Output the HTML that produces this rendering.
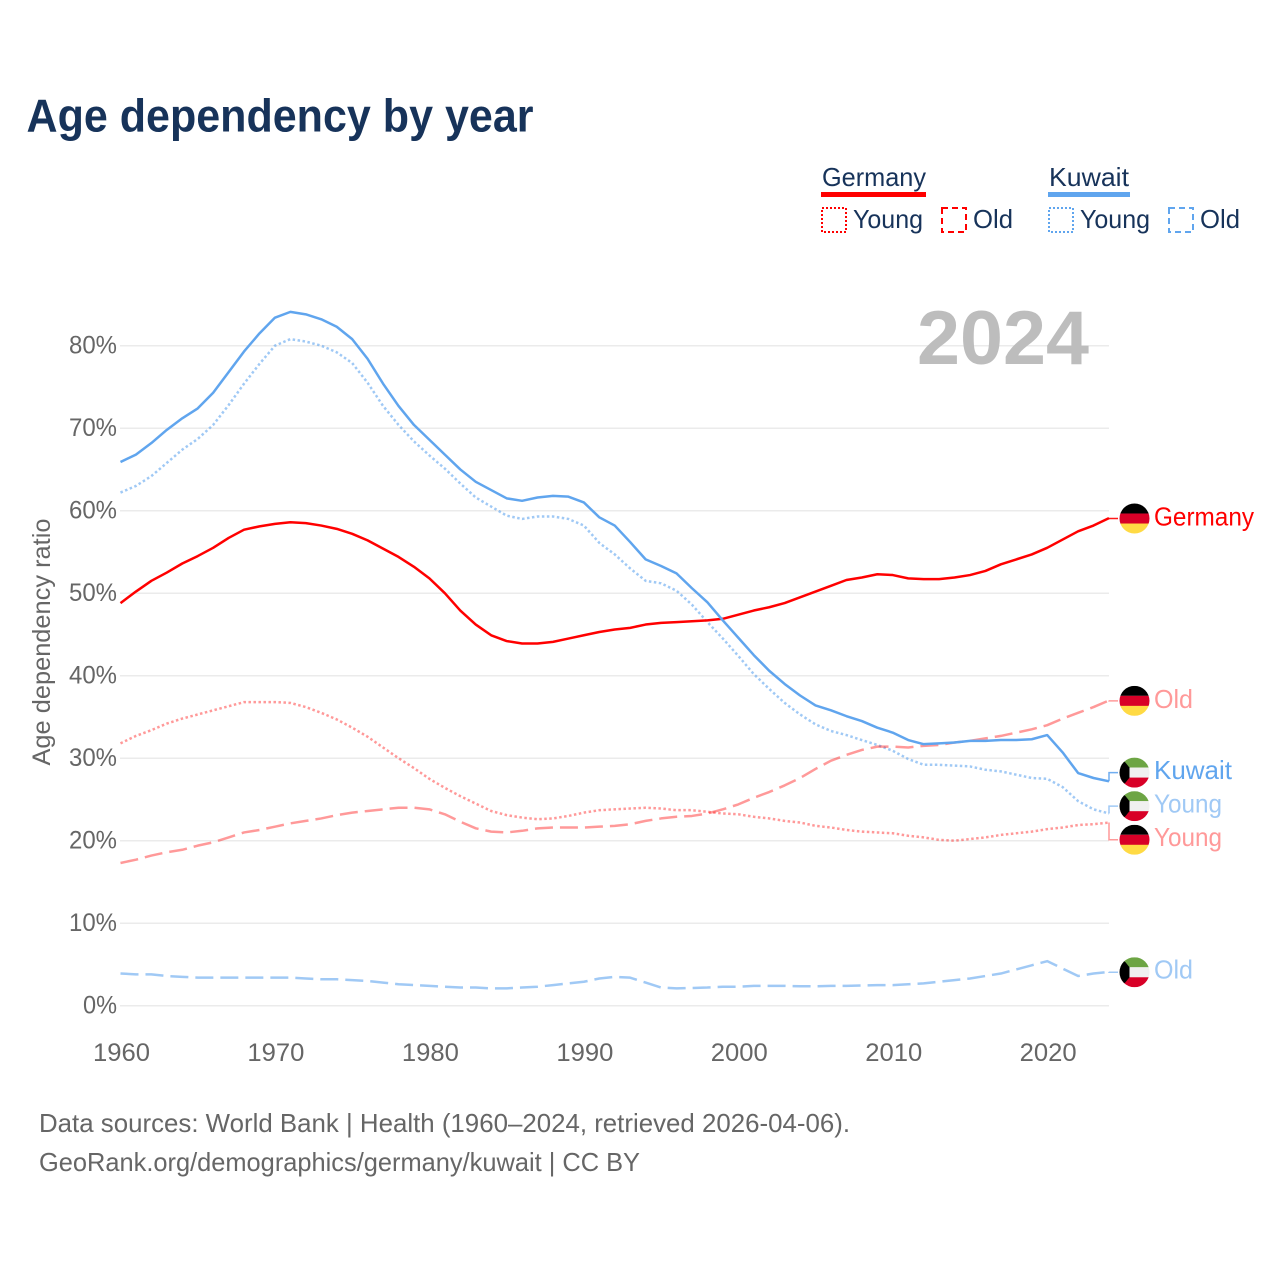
<!DOCTYPE html>
<html lang="en">
<head>
<meta charset="utf-8">
<title>Age dependency by year</title>
<style>
html,body{margin:0;padding:0;background:#fff;width:1280px;height:1280px;overflow:hidden}
svg{display:block}
text{font-family:"Liberation Sans",sans-serif}
.tick{font-size:25px;fill:#666}
.leg{font-size:26px;fill:#17335a}
.end{font-size:26px}
.src{font-size:26px;fill:#666}
</style>
</head>
<body>
<svg id="chart" xmlns="http://www.w3.org/2000/svg" width="1280" height="1280" viewBox="0 0 1280 1280">
  <defs>
    <clipPath id="flag-clip"><circle cx="0" cy="0" r="15"/></clipPath>
    <g id="flag-de">
      <g clip-path="url(#flag-clip)">
        <rect x="-15" y="-15" width="30" height="10" fill="#000"/>
        <rect x="-15" y="-5" width="30" height="10.5" fill="#d80027"/>
        <rect x="-15" y="5" width="30" height="10" fill="#ffda44"/>
      </g>
    </g>
    <g id="flag-kw">
      <g clip-path="url(#flag-clip)">
        <rect x="-15" y="-15" width="30" height="10" fill="#6da544"/>
        <rect x="-15" y="-5" width="30" height="10.5" fill="#f0f0f0"/>
        <rect x="-15" y="5" width="30" height="10" fill="#d80027"/>
        <polygon points="-15,-15 -9,-10 -5,-5 -5,5 -9,10 -15,15" fill="#000"/>
      </g>
    </g>
  </defs>
  <rect width="1280" height="1280" fill="#fff"/>
  <text x="26.5" y="131.5" font-size="46" font-weight="700" fill="#17335a" textLength="507" lengthAdjust="spacingAndGlyphs">Age dependency by year</text>

  <g>
    <g>
      <text class="leg" x="822" y="186" textLength="104" lengthAdjust="spacingAndGlyphs">Germany</text>
      <rect x="821" y="192" width="105" height="5" fill="#ff0000"/>
    </g>
    <g>
      <rect x="822" y="208" width="24" height="24" fill="none" stroke="#ff0000" stroke-width="2" stroke-dasharray="2 2"/>
      <text class="leg" x="853" y="228" textLength="70" lengthAdjust="spacingAndGlyphs">Young</text>
    </g>
    <g>
      <rect x="942" y="208" width="24" height="24" fill="none" stroke="#ff0000" stroke-width="2" stroke-dasharray="6 4"/>
      <text class="leg" x="973" y="228" textLength="40" lengthAdjust="spacingAndGlyphs">Old</text>
    </g>
    <g>
      <text class="leg" x="1049" y="186" textLength="80" lengthAdjust="spacingAndGlyphs">Kuwait</text>
      <rect x="1048" y="192" width="82" height="5" fill="#60a5ee"/>
    </g>
    <g>
      <rect x="1049" y="208" width="24" height="24" fill="none" stroke="#60a5ee" stroke-width="2" stroke-dasharray="2 2"/>
      <text class="leg" x="1080" y="228" textLength="70" lengthAdjust="spacingAndGlyphs">Young</text>
    </g>
    <g>
      <rect x="1169" y="208" width="24" height="24" fill="none" stroke="#60a5ee" stroke-width="2" stroke-dasharray="6 4"/>
      <text class="leg" x="1200" y="228" textLength="40" lengthAdjust="spacingAndGlyphs">Old</text>
    </g>
  </g>

  <g id="grid"></g>
  <g id="y-axis"></g>
  <g id="x-axis"></g>

  <text transform="translate(50,642) rotate(-90)" text-anchor="middle" font-size="25" fill="#666" textLength="247" lengthAdjust="spacingAndGlyphs">Age dependency ratio</text>
  <text x="917" y="364" font-size="76" font-weight="700" fill="#bdbdbd" textLength="172" lengthAdjust="spacingAndGlyphs">2024</text>

  <g id="series"></g>
  <g id="connectors"></g>

  <g id="end-germany">
    <use href="#flag-de" x="1134.5" y="0"/>
    <text class="end" x="1154" y="7" fill="#ff0000" textLength="100" lengthAdjust="spacingAndGlyphs">Germany</text>
  </g>
  <g id="end-germany-old">
    <use href="#flag-de" x="1134.5" y="0"/>
    <text class="end" x="1154" y="7" fill="#ff9999" textLength="39" lengthAdjust="spacingAndGlyphs">Old</text>
  </g>
  <g id="end-kuwait">
    <use href="#flag-kw" x="1134.5" y="0"/>
    <text class="end" x="1154" y="6.5" fill="#60a5ee" textLength="78" lengthAdjust="spacingAndGlyphs">Kuwait</text>
  </g>
  <g id="end-kuwait-young">
    <use href="#flag-kw" x="1134.5" y="0"/>
    <text class="end" x="1154" y="6.5" fill="#a0c9f5" textLength="68" lengthAdjust="spacingAndGlyphs">Young</text>
  </g>
  <g id="end-germany-young">
    <use href="#flag-de" x="1134.5" y="0"/>
    <text class="end" x="1154" y="6" fill="#ff9999" textLength="68" lengthAdjust="spacingAndGlyphs">Young</text>
  </g>
  <g id="end-kuwait-old">
    <use href="#flag-kw" x="1134.5" y="0"/>
    <text class="end" x="1154" y="6" fill="#a0c9f5" textLength="39" lengthAdjust="spacingAndGlyphs">Old</text>
  </g>

  <text class="src" x="39" y="1132" textLength="811" lengthAdjust="spacingAndGlyphs">Data sources: World Bank | Health (1960–2024, retrieved 2026-04-06).</text>
  <text class="src" x="39" y="1171" textLength="601" lengthAdjust="spacingAndGlyphs">GeoRank.org/demographics/germany/kuwait | CC BY</text>
</svg>
<script>
var firstYear = 1960;
var xTicks = [1960, 1970, 1980, 1990, 2000, 2010, 2020];
var yTicks = [0, 10, 20, 30, 40, 50, 60, 70, 80];

var germanyTotal = [48.8,50.2,51.5,52.5,53.6,54.5,55.5,56.7,57.7,58.1,58.4,58.6,58.5,58.2,57.8,57.2,56.4,55.4,54.4,53.2,51.8,50,47.9,46.2,44.9,44.2,43.9,43.9,44.1,44.5,44.9,45.3,45.6,45.8,46.2,46.4,46.5,46.6,46.7,46.9,47.4,47.9,48.3,48.8,49.5,50.2,50.9,51.6,51.9,52.3,52.2,51.8,51.7,51.7,51.9,52.2,52.7,53.5,54.1,54.7,55.5,56.5,57.5,58.2,59.1];
var germanyYoung = [31.8,32.7,33.4,34.2,34.8,35.3,35.8,36.3,36.8,36.8,36.8,36.7,36.2,35.5,34.7,33.7,32.6,31.3,30,28.8,27.5,26.4,25.4,24.5,23.6,23.1,22.8,22.6,22.7,23,23.4,23.7,23.8,23.9,24,23.9,23.7,23.7,23.5,23.3,23.2,22.9,22.7,22.4,22.2,21.8,21.6,21.3,21.1,21,20.9,20.6,20.4,20.1,20,20.2,20.4,20.7,20.9,21.1,21.4,21.6,21.9,22,22.2];
var germanyOld = [17.3,17.7,18.2,18.6,18.9,19.4,19.8,20.4,21,21.3,21.7,22.1,22.4,22.7,23.1,23.4,23.6,23.8,24,24,23.8,23.2,22.3,21.5,21.1,21,21.2,21.5,21.6,21.6,21.6,21.7,21.8,22,22.4,22.7,22.9,23,23.3,23.8,24.4,25.2,25.9,26.7,27.6,28.7,29.7,30.4,31,31.4,31.4,31.3,31.5,31.6,31.9,32.1,32.4,32.7,33.1,33.5,34,34.8,35.5,36.2,37];
var kuwaitTotal = [65.9,66.8,68.2,69.8,71.2,72.4,74.3,76.8,79.3,81.5,83.4,84.1,83.8,83.2,82.3,80.8,78.4,75.4,72.7,70.4,68.6,66.8,65,63.5,62.5,61.5,61.2,61.6,61.8,61.7,61,59.2,58.2,56.2,54.1,53.3,52.4,50.6,48.9,46.7,44.6,42.5,40.6,39,37.6,36.4,35.8,35.1,34.5,33.7,33.1,32.2,31.7,31.8,31.9,32.1,32.1,32.2,32.2,32.3,32.8,30.7,28.2,27.6,27.2];
var kuwaitYoung = [62.2,63,64.2,65.8,67.4,68.7,70.4,72.8,75.4,77.8,80,80.8,80.5,80,79.2,77.9,75.5,72.7,70.4,68.4,66.7,65.1,63.3,61.6,60.5,59.4,59,59.3,59.3,59,58.2,56.1,54.7,53,51.5,51.2,50.3,48.6,46.5,44.5,42.4,40.2,38.4,36.7,35.3,34.1,33.3,32.8,32.2,31.6,30.9,29.9,29.2,29.2,29.1,29,28.6,28.4,28,27.6,27.5,26.5,24.8,23.8,23.3];
var kuwaitOld = [3.9,3.8,3.8,3.6,3.5,3.4,3.4,3.4,3.4,3.4,3.4,3.4,3.3,3.2,3.2,3.1,3,2.8,2.6,2.5,2.4,2.3,2.2,2.2,2.1,2.1,2.2,2.3,2.5,2.7,2.9,3.3,3.5,3.4,2.8,2.2,2.1,2.15,2.2,2.3,2.3,2.4,2.4,2.4,2.35,2.35,2.4,2.4,2.45,2.5,2.5,2.6,2.7,2.9,3.1,3.3,3.6,3.9,4.4,4.9,5.4,4.5,3.6,3.9,4.1];

var NS = 'http://www.w3.org/2000/svg';
function xScale(year) { return 120.5 + (year - firstYear) * 15.445; }
function yScale(pct) { return 1005.7 - pct * 8.25; }

var gridGroup = document.getElementById('grid');
var yAxisGroup = document.getElementById('y-axis');
var xAxisGroup = document.getElementById('x-axis');
var seriesGroup = document.getElementById('series');
var connectorGroup = document.getElementById('connectors');

yTicks.forEach(function (t) {
  var line = document.createElementNS(NS, 'line');
  
  
  line.setAttribute('x1', 120);
  line.setAttribute('x2', 1109);
  line.setAttribute('y1', yScale(t));
  line.setAttribute('y2', yScale(t));
  line.setAttribute('stroke', '#ebebeb');
  line.setAttribute('stroke-width', 1.5);
  gridGroup.appendChild(line);

  var label = document.createElementNS(NS, 'text');
  
  
  label.setAttribute('class', 'tick');
  label.setAttribute('x', 117);
  label.setAttribute('y', yScale(t) + 8);
  label.setAttribute('text-anchor', 'end');
  label.setAttribute('textLength', t === 0 ? 34 : 48);
  label.setAttribute('lengthAdjust', 'spacingAndGlyphs');
  label.textContent = t + '%';
  yAxisGroup.appendChild(label);
});

xTicks.forEach(function (t) {
  var label = document.createElementNS(NS, 'text');
  
  
  label.setAttribute('class', 'tick');
  label.setAttribute('x', xScale(t) + 1);
  label.setAttribute('y', 1061);
  label.setAttribute('text-anchor', 'middle');
  label.setAttribute('textLength', 57);
  label.setAttribute('lengthAdjust', 'spacingAndGlyphs');
  label.textContent = t;
  xAxisGroup.appendChild(label);
});

function drawLine(values, name, color, dash, opacity) {
  var path = document.createElementNS(NS, 'path');
  
  
  var d = values.map(function (v, i) {
    return (i ? 'L' : 'M') + xScale(firstYear + i).toFixed(2) + ' ' + yScale(v).toFixed(2);
  }).join(' ');
  path.setAttribute('d', d);
  path.setAttribute('fill', 'none');
  path.setAttribute('stroke', color);
  path.setAttribute('stroke-width', 2.5);
  path.setAttribute('stroke-linejoin', 'round');
  path.setAttribute('stroke-opacity', opacity);
  if (dash) path.setAttribute('stroke-dasharray', dash);
  seriesGroup.appendChild(path);
}

drawLine(kuwaitOld, 'line-kuwait-old', '#60a5ee', '18 7', 0.6);
drawLine(kuwaitYoung, 'line-kuwait-young', '#60a5ee', '2.5 2.5', 0.6);
drawLine(germanyYoung, 'line-germany-young', '#ff0000', '2.5 2.5', 0.4);
drawLine(germanyOld, 'line-germany-old', '#ff0000', '18 7', 0.4);
drawLine(germanyTotal, 'line-germany-total', '#ff0000', null, 1);
drawLine(kuwaitTotal, 'line-kuwait-total', '#60a5ee', null, 1);

var endItems = [
  { id: 'end-germany', values: germanyTotal, color: '#ff0000', opacity: 1 },
  { id: 'end-germany-old', values: germanyOld, color: '#ff0000', opacity: 0.4 },
  { id: 'end-kuwait', values: kuwaitTotal, color: '#60a5ee', opacity: 1 },
  { id: 'end-kuwait-young', values: kuwaitYoung, color: '#60a5ee', opacity: 0.6 },
  { id: 'end-germany-young', values: germanyYoung, color: '#ff0000', opacity: 0.4 },
  { id: 'end-kuwait-old', values: kuwaitOld, color: '#60a5ee', opacity: 0.6 }
];
var labelGap = 33.6;
endItems.forEach(function (it) { it.lineY = yScale(it.values[it.values.length - 1]); });
endItems.sort(function (a, b) { return a.lineY - b.lineY; });

var clusters = endItems.map(function (it) { return { items: [it], mean: it.lineY }; });
var merged = true;
while (merged) {
  merged = false;
  for (var c = 0; c < clusters.length - 1; c++) {
    var a = clusters[c], b = clusters[c + 1];
    var aBottom = a.mean + (a.items.length - 1) * labelGap / 2;
    var bTop = b.mean - (b.items.length - 1) * labelGap / 2;
    if (bTop - aBottom < labelGap) {
      var all = a.items.concat(b.items);
      var sum = all.reduce(function (s, it) { return s + it.lineY; }, 0);
      clusters.splice(c, 2, { items: all, mean: sum / all.length });
      merged = true;
      break;
    }
  }
}

clusters.forEach(function (cl) {
  cl.items.forEach(function (it, i) {
    var labelY = cl.mean + (i - (cl.items.length - 1) / 2) * labelGap + 0.4;
    document.getElementById(it.id).setAttribute('transform', 'translate(0,' + labelY.toFixed(2) + ')');
    var conn = document.createElementNS(NS, 'path');
    
    
    conn.setAttribute('d', 'M1109 ' + it.lineY.toFixed(2) + ' L1109 ' + labelY.toFixed(2) + ' L1118 ' + labelY.toFixed(2));
    conn.setAttribute('fill', 'none');
    conn.setAttribute('stroke', it.color);
    conn.setAttribute('stroke-opacity', it.opacity === 1 ? 0.9 : it.opacity);
    conn.setAttribute('stroke-width', 1.5);
    connectorGroup.appendChild(conn);
  });
});
</script>
</body>
</html>
